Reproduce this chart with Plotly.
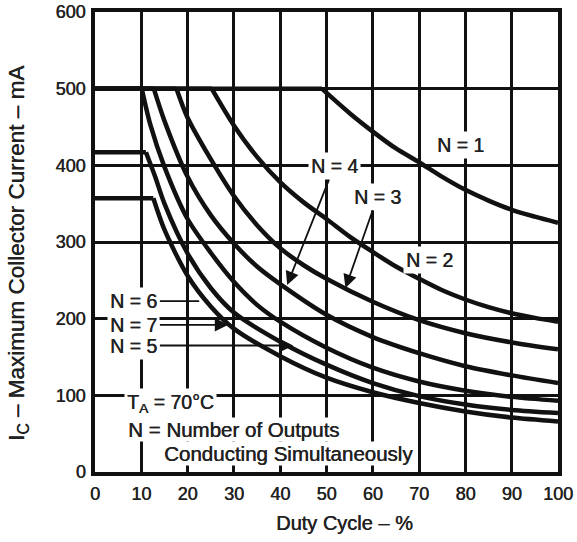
import plotly.graph_objects as go

# Maximum collector current vs duty cycle, T_A = 70 degC, for N outputs on at once.
# Each curve: a flat current limit up to its break point, then the falling part.
flat_level = {1: 500, 2: 500, 3: 500, 4: 500, 5: 500, 6: 417, 7: 357}

duty_n1 = [49, 55, 60, 65, 70, 75, 80, 85, 90, 95, 100]
ic_n1 = [500, 468, 444, 422, 404, 385, 368, 354, 342, 333, 325]

duty_n2 = [25.2, 30, 35, 40, 45, 50, 55, 60, 65, 70, 75, 80, 85, 90, 95, 100]
ic_n2 = [500, 452, 411, 378, 352, 330, 307, 287, 268, 252, 237, 225, 215, 207, 201, 196]

duty_n3 = [17.6, 20, 25, 30, 35, 40, 45, 50, 60, 70, 80, 90, 100]
ic_n3 = [500, 462, 408, 360, 322, 292, 270, 252, 222, 198, 181, 169, 160]

duty_n4 = [12.7, 15, 20, 25, 30, 35, 40, 50, 60, 70, 80, 90, 100]
ic_n4 = [500, 458, 385, 335, 298, 268, 245, 205, 176, 155, 138, 126, 116]

duty_n5 = [10.1, 12, 15, 20, 25, 30, 35, 40, 50, 60, 70, 80, 90, 100]
ic_n5 = [500, 452, 398, 330, 286, 248, 218, 196, 162, 136, 118, 106, 98, 93]

duty_n6 = [11, 13, 15, 20, 25, 30, 40, 50, 60, 70, 80, 90, 100]
ic_n6 = [417, 385, 350, 285, 240, 208, 170, 140, 116, 99, 88, 81, 77]

duty_n7 = [12.6, 15, 20, 25, 30, 40, 50, 60, 70, 80, 90, 100]
ic_n7 = [357, 316, 256, 216, 187, 151, 123, 104, 90, 79, 71, 66]

x_ticks = [0, 10, 20, 30, 40, 50, 60, 70, 80, 90, 100]
y_ticks = [0, 100, 200, 300, 400, 500, 600]

curves = {
    1: (duty_n1, ic_n1),
    2: (duty_n2, ic_n2),
    3: (duty_n3, ic_n3),
    4: (duty_n4, ic_n4),
    5: (duty_n5, ic_n5),
    6: (duty_n6, ic_n6),
    7: (duty_n7, ic_n7),
}

INK = "#111111"
TEXT = "#222222"
FONT = "Liberation Sans, Arial, sans-serif"
HEAVY = "0.5px 0px 0px #222222"   # slight stroke so the type reads a little heavier

fig = go.Figure()
for n, (duty, ic) in curves.items():
    # flat part: current limit from 0 % up to the break point
    fig.add_trace(go.Scatter(
        x=[0, duty[0]], y=[flat_level[n], flat_level[n]],
        mode="lines", line=dict(color=INK, width=4.5),
        hoverinfo="skip", showlegend=False))
    # falling part
    fig.add_trace(go.Scatter(
        x=duty, y=ic, mode="lines",
        line=dict(color=INK, width=4.5, shape="spline", smoothing=0.8),
        name=f"N = {n}", showlegend=False))


def tfont(size):
    return dict(family=FONT, size=size, color=TEXT, shadow=HEAVY)


def label(text, x, y, size=19.5, pad=2, **kw):
    fig.add_annotation(text=text, x=x, y=y, xref="x", yref="y",
                       showarrow=False, font=tfont(size),
                       bgcolor="white", borderpad=pad, **kw)


def pointer(text, tip_x, tip_y, lab_x, lab_y, head=2):
    fig.add_annotation(text=text, x=tip_x, y=tip_y, ax=lab_x, ay=lab_y,
                       xref="x", yref="y", axref="x", ayref="y",
                       showarrow=True, arrowhead=head, arrowsize=1.5,
                       arrowwidth=1.8, arrowcolor=INK, standoff=0,
                       font=tfont(19.5), bgcolor="white", borderpad=2)


label("N = 1", 78.9, 426)
label("N = 2", 72.2, 277)
pointer("N = 4", 41.5, 244, 51.7, 399)
pointer("N = 3", 54.1, 240, 61.0, 359)
pointer("N = 6", 22.5, 223, 8.4, 223, head=0)
pointer("N = 7", 28.8, 192, 8.4, 192)
pointer("N = 5", 42.8, 165, 8.4, 165)
label("T<sub>A</sub> = 70°C", 16.3, 89)
label("N = Number of Outputs", 7.0, 56, size=20.5, pad=0, xanchor="left")
label("Conducting Simultaneously", 14.6, 24.5, size=20.5, pad=0, xanchor="left")

# axis titles
fig.add_annotation(text="Duty Cycle – %", xref="paper", yref="paper",
                   x=0.538, y=-0.11, xanchor="center", yanchor="middle",
                   showarrow=False, font=tfont(20))
fig.add_annotation(text="I<sub>C</sub> – Maximum Collector Current – mA",
                   xref="paper", yref="paper", x=-0.166, y=0.474,
                   xanchor="center", yanchor="middle",
                   textangle=-90, showarrow=False, font=tfont(22.5))

axis_common = dict(
    showline=True, mirror=True, linecolor=INK, linewidth=3.5,
    showgrid=True, gridcolor=INK, gridwidth=3, zeroline=False,
    ticks="", automargin=False, tickfont=tfont(18),
)

fig.update_xaxes(range=[0, 100], tickvals=x_ticks, ticklabelstandoff=3,
                 **axis_common)
fig.update_yaxes(range=[0, 600], tickvals=y_ticks, ticklabelstandoff=2,
                 **axis_common)

fig.update_layout(
    width=577, height=542,
    margin=dict(l=95, r=19, t=12, b=70),
    paper_bgcolor="white", plot_bgcolor="white",
)

fig.write_html("out.html")
